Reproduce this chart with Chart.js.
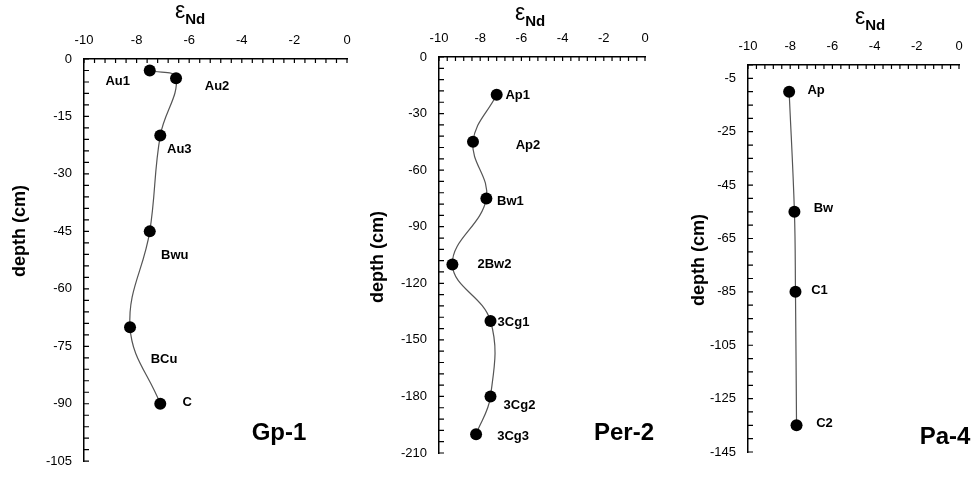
<!DOCTYPE html>
<html>
<head>
<meta charset="utf-8">
<script src="https://cdn.jsdelivr.net/npm/chart.js@4"></script>
<style>
  html, body { margin: 0; padding: 0; background: #fff; }
  #wrap { position: relative; width: 975px; height: 481px; }
  #wrap canvas { position: absolute; left: 0; top: 0; }
</style>
</head>
<body>
<div id="wrap">
  <canvas id="gp1" width="975" height="481"></canvas>
  <canvas id="per2" width="975" height="481"></canvas>
  <canvas id="pa4" width="975" height="481"></canvas>
</div>
<script>
// eNd vs depth for three soil profiles
const xTicks = [-10, -8, -6, -4, -2, 0];

const gp1Labels = ["Au1", "Au2", "Au3", "Bwu", "BCu", "C"];
const gp1Eps = [-7.5, -6.5, -7.1, -7.5, -8.25, -7.1];
const gp1Depth = [-3, -5, -20, -45, -70, -90];
const gp1YTicks = [0, -15, -30, -45, -60, -75, -90, -105];

const per2Labels = ["Ap1", "Ap2", "Bw1", "2Bw2", "3Cg1", "3Cg2", "3Cg3"];
const per2Eps = [-7.2, -8.35, -7.7, -9.35, -7.5, -7.5, -8.2];
const per2Depth = [-20, -45, -75, -110, -140, -180, -200];
const per2YTicks = [0, -30, -60, -90, -120, -150, -180, -210];

const pa4Labels = ["Ap", "Bw", "C1", "C2"];
const pa4Eps = [-8.05, -7.8, -7.75, -7.7];
const pa4Depth = [-10, -55, -85, -135];
const pa4YTicks = [-5, -25, -45, -65, -85, -105, -125, -145];

const FONT = '"Liberation Sans", Arial, sans-serif';
const W = 975, H = 481;

// label offsets from each point, px
const gp1Off = [[-32, 11], [41, 8], [19, 14], [25, 24], [34, 32], [27, -1]];
const per2Off = [[21, 1], [55, 4], [24, 3], [42, 0], [23, 1], [29, 9], [37, 2]];
const pa4Off = [[27, -1], [29, -3], [24, -1], [28, -2]];

const decor = {
  id: "decor",
  afterDatasetsDraw(chart, args, o) {
    const { ctx } = chart;
    const x = chart.scales.x, y = chart.scales.y;
    ctx.save();
    // inward tick marks
    ctx.strokeStyle = "#000";
    ctx.lineWidth = 1.2;
    ctx.beginPath();
    const nx = Math.round((x.max - x.min) / o.xMinor);
    for (let i = 0; i <= nx; i++) {
      const px = x.getPixelForValue(x.min + i * o.xMinor);
      ctx.moveTo(px, y.top);
      ctx.lineTo(px, y.top + 4);
    }
    const ny = Math.round((y.max - y.min) / o.yMinor);
    for (let i = 0; i <= ny; i++) {
      const py = y.getPixelForValue(y.max - i * o.yMinor);
      ctx.moveTo(x.left, py);
      ctx.lineTo(x.left + 5, py);
    }
    ctx.stroke();

    // point labels
    const meta = chart.getDatasetMeta(0);
    ctx.fillStyle = "#000";
    ctx.font = "bold 13px " + FONT;
    ctx.textAlign = "center";
    ctx.textBaseline = "middle";
    o.labels.forEach((t, i) => {
      const p = meta.data[i];
      ctx.fillText(t, p.x + o.offsets[i][0], p.y + o.offsets[i][1]);
    });

    // eNd axis title
    ctx.textAlign = "left";
    ctx.font = "23px " + FONT;
    ctx.fillText("\u03b5", o.eps[0], o.eps[1]);
    const ew = ctx.measureText("\u03b5").width;
    ctx.font = "bold 15px " + FONT;
    ctx.fillText("Nd", o.eps[0] + ew, o.eps[1] + 8);

    // profile name
    ctx.textAlign = "center";
    ctx.textBaseline = "alphabetic";
    ctx.font = "bold 24px " + FONT;
    ctx.fillText(o.name, o.namePos[0], o.namePos[1]);

    // depth title
    ctx.translate(o.depthPos[0], o.depthPos[1]);
    ctx.rotate(-Math.PI / 2);
    ctx.textBaseline = "middle";
    ctx.font = "bold 18px " + FONT;
    ctx.fillText("depth (cm)", 0, 0);
    ctx.restore();
  }
};

function setTicks(values) {
  return (scale) => { scale.ticks = values.map((v) => ({ value: v })); };
}

function buildPanel(id, eps, depth, yTicks, box, opts) {
  const axisW = 60, axisH = 40;
  return new Chart(document.getElementById(id), {
    type: "scatter",
    data: {
      datasets: [{
        data: eps.map((v, i) => ({ x: v, y: depth[i] })),
        showLine: true,
        borderColor: "#555",
        borderWidth: 1.2,
        tension: 0.4,
        pointRadius: 6,
        pointBackgroundColor: "#000",
        pointBorderWidth: 0,
        clip: false
      }]
    },
    options: {
      responsive: false,
      animation: false,
      layout: {
        padding: { left: box[0] - axisW, top: box[1] - axisH, right: W - box[2], bottom: H - box[3] }
      },
      scales: {
        x: {
          type: "linear",
          position: "top",
          min: -10,
          max: 0,
          afterBuildTicks: setTicks(xTicks),
          afterFit(s) { s.height = axisH; },
          grid: { display: false, drawTicks: false },
          border: { display: true, color: "#000", width: 1.5 },
          ticks: { padding: 11, color: "#000", font: { family: FONT, size: 13 } }
        },
        y: {
          type: "linear",
          min: opts.yMin,
          max: 0,
          afterBuildTicks: setTicks(yTicks),
          afterFit(s) { s.width = axisW; },
          grid: { display: false, drawTicks: false },
          border: { display: true, color: "#000", width: 1.5 },
          ticks: { padding: 12, color: "#000", font: { family: FONT, size: 13 } }
        }
      },
      plugins: {
        legend: { display: false },
        tooltip: { enabled: false },
        decor: opts
      }
    },
    plugins: [decor]
  });
}

buildPanel("gp1", gp1Eps, gp1Depth, gp1YTicks, [84, 59, 347, 470], {
  yMin: -105, xMinor: 0.4, yMinor: 3,
  labels: gp1Labels, offsets: gp1Off,
  eps: [175, 12], name: "Gp-1", namePos: [279, 440], depthPos: [20, 231]
});
buildPanel("per2", per2Eps, per2Depth, per2YTicks, [439, 57, 645, 453], {
  yMin: -210, xMinor: 0.4, yMinor: 6,
  labels: per2Labels, offsets: per2Off,
  eps: [515, 14], name: "Per-2", namePos: [624, 440], depthPos: [378, 257]
});
buildPanel("pa4", pa4Eps, pa4Depth, pa4YTicks, [748, 65, 959, 452], {
  yMin: -145, xMinor: 0.4, yMinor: 5,
  labels: pa4Labels, offsets: pa4Off,
  eps: [855, 18], name: "Pa-4", namePos: [945, 444], depthPos: [699, 260]
});
</script>
</body>
</html>
